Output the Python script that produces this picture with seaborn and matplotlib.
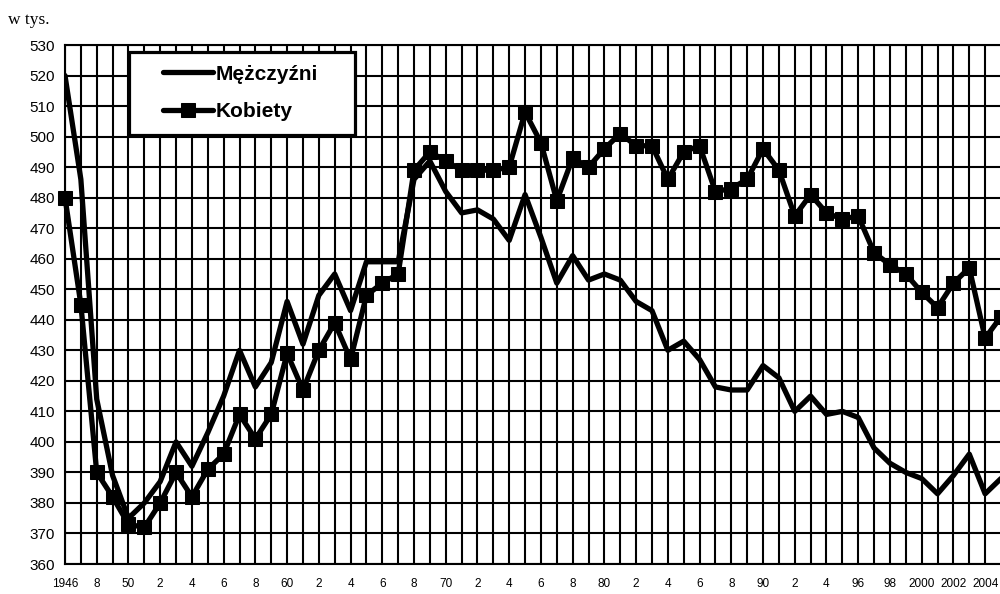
import matplotlib
matplotlib.use("Agg")
import matplotlib.pyplot as plt
from matplotlib.patches import Rectangle
import seaborn as sns
import pandas as pd

years = list(range(1946, 2006))
men = [520, 486, 414, 389, 375, 380, 387, 400, 392, 403, 415, 430, 418, 426, 446,
       432, 448, 455, 443, 459, 459, 459, 486, 492, 482, 475, 476, 473, 466, 481,
       467, 452, 461, 453, 455, 453, 446, 443, 430, 433, 427, 418, 417, 417, 425,
       421, 410, 415, 409, 410, 408, 398, 393, 390, 388, 383, 389, 396, 383, 388]
women = [480, 445, 390, 382, 373, 372, 380, 390, 382, 391, 396, 409, 401, 409, 429,
         417, 430, 439, 427, 448, 452, 455, 489, 495, 492, 489, 489, 489, 490, 508,
         498, 479, 493, 490, 496, 501, 497, 497, 486, 495, 497, 482, 483, 486, 496,
         489, 474, 481, 475, 473, 474, 462, 458, 455, 449, 444, 452, 457, 434, 441]
series_names = ["Mężczyźni", "Kobiety"]
x_tick_years = list(range(1946, 2005, 2))
x_tick_labels = ["1946", "8", "50", "2", "4", "6", "8", "60", "2", "4", "6", "8",
                 "70", "2", "4", "6", "8", "80", "2", "4", "6", "8", "90", "2", "4",
                 "96", "98", "2000", "2002", "2004"]
y_ticks = list(range(360, 531, 10))
unit_label = "w tys."

df_m = pd.DataFrame({"rok": years, "wartosc": men})
df_k = pd.DataFrame({"rok": years, "wartosc": women})

sns.set_style("white")
plt.rcParams["font.family"] = ["Liberation Sans Narrow", "Liberation Sans", "DejaVu Sans"]

fig = plt.figure(figsize=(10, 5.94), dpi=100)
ax = fig.add_axes([0.065, 0.0505, 0.936, 0.8737])

sns.lineplot(data=df_m, x="rok", y="wartosc", ax=ax, color="black", linewidth=3.8,
             label=series_names[0], zorder=3)
sns.lineplot(data=df_k, x="rok", y="wartosc", ax=ax, color="black", linewidth=3.8,
             marker="s", markersize=10, markeredgecolor="black", markerfacecolor="black",
             label=series_names[1], zorder=4, clip_on=False)

ax.set_xlim(1946, 2005)
ax.set_ylim(360, 530)
ax.set_xticks(years)
lab_map = dict(zip(x_tick_years, x_tick_labels))
ax.set_xticklabels([lab_map.get(y, "") for y in years], fontsize=8.5)
ax.set_yticks(y_ticks)
ax.set_yticklabels([str(v) for v in y_ticks], fontsize=11)
ax.tick_params(axis="both", direction="out", length=4, width=1.5, color="black",
               pad=3, labelcolor="black")
ax.tick_params(axis="x", pad=6)
ax.grid(True, color="black", linewidth=1.5)
ax.set_axisbelow(True)
ax.set_xlabel("")
ax.set_ylabel("")
for s in ["left", "top", "bottom"]:
    ax.spines[s].set_color("black")
    ax.spines[s].set_linewidth(1.5)
ax.spines["right"].set_visible(False)

# legend box (frame drawn separately to match the wide padding)
box = Rectangle((0.0684, 0.8266), 0.2415, 0.160, transform=ax.transAxes,
                facecolor="white", edgecolor="black", linewidth=2.3, zorder=9,
                clip_on=False)
ax.add_patch(box)

leg = ax.legend(loc="upper left", bbox_to_anchor=(0.1047, 0.962), borderaxespad=0,
                frameon=False, handlelength=2.4, handletextpad=0.15, labelspacing=0.9,
                borderpad=0,
                prop={"family": ["Liberation Sans", "DejaVu Sans"], "weight": "bold", "size": 15})
leg.set_zorder(10)
for t in leg.get_texts():
    t.set_color("black")

fig.text(0.008, 0.966, unit_label, fontsize=12.5, family=["Liberation Serif", "DejaVu Serif"],
         va="center", ha="left", color="black")

fig.savefig("out.png", dpi=100, facecolor="white")
